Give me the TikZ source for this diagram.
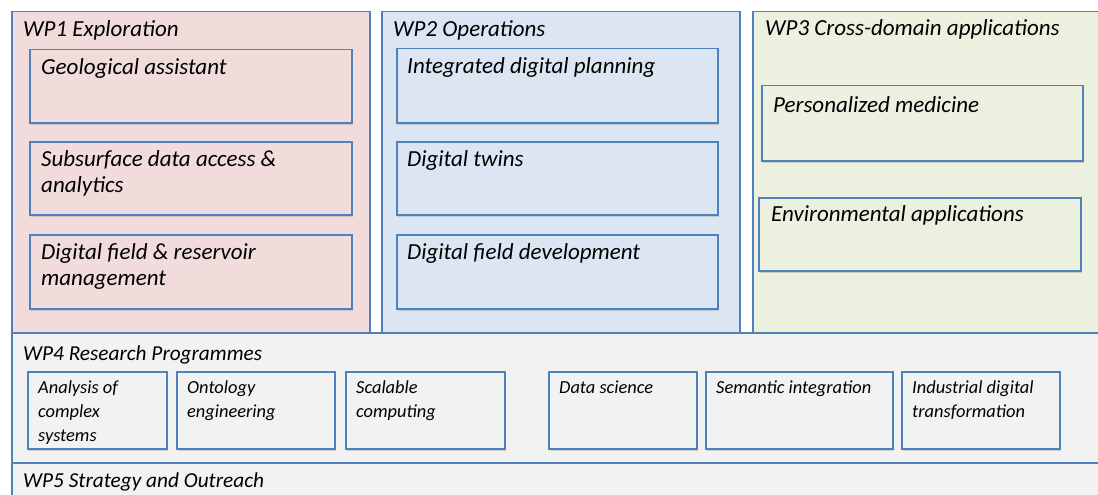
\documentclass[tikz,border=0pt]{standalone}
\usepackage{fontspec}
\setmainfont{Carlito}
\usetikzlibrary{positioning, shadows}

\definecolor{wpBorder}{RGB}{79, 129, 189}
\definecolor{wpRed}{RGB}{242, 220, 219}
\definecolor{wpBlue}{RGB}{220, 230, 242}
\definecolor{wpGreen}{RGB}{235, 241, 222}
\definecolor{wpGrey}{RGB}{242, 242, 242}

% stacked lines whose baseline is the first line
\newcommand{\wpLines}[1]{\begin{tabular}[t]{@{}l@{}}#1\end{tabular}}

\begin{document}
\begin{tikzpicture}[x=1pt, y=-1pt,
    wp/.style={draw=wpBorder, line width=1.5pt, fill=#1, inner sep=0pt, anchor=north west},
    task/.style={draw=wpBorder, line width=1.5pt, fill=#1, inner sep=0pt, anchor=north west,
        drop shadow={shadow xshift=1.5pt, shadow yshift=-2pt, opacity=0.3}},
    wptitle/.style={anchor=base west, inner sep=0pt, xshift=12pt, yshift=-26pt,
        font=\fontsize{23}{27}\selectfont\itshape},
    bandtitle/.style={wptitle, font=\fontsize{21.3}{26}\selectfont\itshape},
    tasklabel/.style={anchor=base west, inner sep=0pt, xshift=12pt, yshift=-25.5pt,
        font=\fontsize{23}{26}\selectfont\itshape},
    rplabel/.style={anchor=base west, inner sep=0pt, xshift=11pt, yshift=-22pt,
        font=\fontsize{18.4}{24}\selectfont\itshape}
]
    \useasboundingbox (0,0) rectangle (1098,495);
    \clip (0,0) rectangle (1098,495);

    % --- WP4 / WP5 bands ---
    \node[wp=wpGrey, minimum width=1150, minimum height=130] (wp4) at (11,332) {};
    \node[wp=wpGrey, minimum width=1150, minimum height=60] (wp5) at (11,462) {};
    \node[bandtitle, yshift=-2pt] at (wp4.north west) {WP4 Research Programmes};
    \node[bandtitle, yshift=1pt] at (wp5.north west) {WP5 Strategy and Outreach};

    % --- WP1 Exploration ---
    \node[wp=wpRed, minimum width=358, minimum height=321] (wp1) at (11,11) {};
    \node[wptitle] at (wp1.north west) {WP1 Exploration};
    \node[task=wpRed, minimum width=322, minimum height=73] (geo) at (29,49) {};
    \node[task=wpRed, minimum width=322, minimum height=73] (sub) at (29,141) {};
    \node[task=wpRed, minimum width=322, minimum height=74] (res) at (29,234) {};
    \node[tasklabel] at (geo.north west) {Geological assistant};
    \node[tasklabel] at (sub.north west) {\wpLines{Subsurface data access \&\\analytics}};
    \node[tasklabel] at (res.north west) {\wpLines{Digital field \& reservoir\\management}};

    % --- WP2 Operations ---
    \node[wp=wpBlue, minimum width=358, minimum height=321] (wp2) at (381,11) {};
    \node[wptitle] at (wp2.north west) {WP2 Operations};
    \node[task=wpBlue, minimum width=321, minimum height=74] (plan) at (396,48) {};
    \node[task=wpBlue, minimum width=321, minimum height=73] (twin) at (396,141) {};
    \node[task=wpBlue, minimum width=321, minimum height=74] (dev) at (396,234) {};
    \node[tasklabel, xshift=-1pt] at (plan.north west) {Integrated digital planning};
    \node[tasklabel, xshift=-1pt] at (twin.north west) {Digital twins};
    \node[tasklabel, xshift=-1pt] at (dev.north west) {Digital field development};

    % --- WP3 Cross-domain applications ---
    \node[wp=wpGreen, minimum width=400, minimum height=321] (wp3) at (752,11) {};
    \node[wptitle, xshift=1pt, yshift=1pt] at (wp3.north west) {WP3 Cross-domain applications};
    \node[task=wpGreen, minimum width=321, minimum height=75] (med) at (761,85) {};
    \node[task=wpGreen, minimum width=322, minimum height=73] (env) at (758,197) {};
    \node[tasklabel, yshift=-1.5pt] at (med.north west) {Personalized medicine};
    \node[tasklabel, xshift=1pt, yshift=1.5pt] at (env.north west) {Environmental applications};

    % --- research programme boxes in WP4 ---
    \foreach \x/\w/\n/\t in {
        27/139/rpa/{Analysis of\\complex\\systems},
        176/158/rpb/{Ontology\\engineering},
        345/159/rpc/{Scalable\\computing},
        548/148/rpd/{Data science},
        705/187/rpe/{Semantic integration},
        901/158/rpf/{Industrial digital\\transformation}} {
        \node[task=wpGrey, minimum width=\w, minimum height=77] (\n) at (\x,371) {};
        \node[rplabel] at (\n.north west) {\wpLines{\t}};
    }
\end{tikzpicture}
\end{document}
